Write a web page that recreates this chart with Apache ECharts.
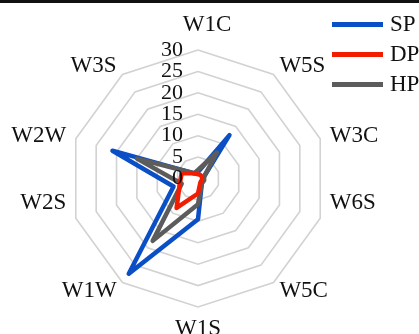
<!DOCTYPE html>
<html>
<head>
<meta charset="utf-8">
<script src="https://cdn.jsdelivr.net/npm/echarts@6/dist/echarts.min.js"></script>
<style>
  html, body { margin: 0; padding: 0; background: #fff; }
  #chart { width: 419px; height: 334px; }
</style>
</head>
<body>
<div id="chart"></div>
<script>
// Spokes listed counter-clockwise from the top, the way ECharts lays out radar indicators.
var categories = ['W1C', 'W3S', 'W2W', 'W2S', 'W1W', 'W1S', 'W5C', 'W6S', 'W3C', 'W5S'];
var seriesNames = ['SP', 'DP', 'HP'];
var spValues = [1.5, 1.5, 21, 6, 27.5, 9.5, 1.5, 1, 1.5, 12.5];
var dpValues = [1, 1.5, 4, 4.5, 8.5, 3.5, 1, 1, 1, 1];
var hpValues = [2, 1.5, 15, 4, 18, 6, 1.5, 1.5, 1.5, 7.5];
var axisMin = 0;
var axisMax = 30;
var axisSplits = 6;

var FONT = 'Liberation Serif';
var colors = { SP: '#0b4fc6', DP: '#f21d00', HP: '#5c5c5c' };
var CENTER = [198, 178.5];
var RADIUS = 128.5;

// Per-spoke nudges of the spoke names (rich-text style keys).
var nameStyleKey = { W1C: 'top', W2S: 'raised', W6S: 'raised' };

function tickLabels(extra) {
  return Object.assign({
    show: true, hideOverlap: false, margin: 15,
    color: '#111', fontSize: 22, fontFamily: FONT, padding: [6, 0, 0, 0]
  }, extra);
}

// Main radar: rings and spoke names.
var indicators = categories.map(function (c) {
  return { name: c, min: axisMin, max: axisMax };
});

// Overlay radar on the same scale that prints the tick numbers above the lines.
// The inner numbers and the two end numbers come from separate axes so none is dropped.
function labelIndicators(labelOpt) {
  return categories.map(function (c, i) {
    var ind = { name: c, min: axisMin, max: axisMax };
    if (i === 0) ind.axisLabel = labelOpt;
    return ind;
  });
}
var innerIndicators = labelIndicators(tickLabels({ showMinLabel: false, showMaxLabel: false }));
var endIndicators = labelIndicators(tickLabels({
  showMinLabel: true, showMaxLabel: true,
  formatter: function (v) { return (v === axisMin || v === axisMax) ? String(v) : ''; }
}));

function labelRadar(ind) {
  return {
    z: 10,
    center: CENTER,
    radius: RADIUS,
    startAngle: 90,
    shape: 'polygon',
    splitNumber: axisSplits,
    indicator: ind,
    axisName: { show: false },
    axisLine: { show: false },
    axisTick: { show: false },
    axisLabel: { show: false },
    splitLine: { show: false },
    splitArea: { show: false }
  };
}

var valueSets = { SP: spValues, DP: dpValues, HP: hpValues };
var zOrder = { SP: 2, DP: 4, HP: 3 };

var chart = echarts.init(document.getElementById('chart'), null, { renderer: 'canvas' });
chart.setOption({
  animation: false,
  backgroundColor: '#fff',
  graphic: [{
    type: 'rect', left: 0, top: 0,
    shape: { width: 419, height: 3 },
    style: { fill: '#111' }
  }],
  legend: {
    data: seriesNames,
    orient: 'vertical',
    left: 327, top: 8,
    itemWidth: 51, itemHeight: 5, itemGap: 7,
    icon: 'rect',
    textStyle: { fontFamily: FONT, fontSize: 23, color: '#111', padding: [0, 0, 0, 2] }
  },
  radar: [{
    center: CENTER,
    radius: RADIUS,
    startAngle: 90,
    shape: 'polygon',
    splitNumber: axisSplits,
    indicator: indicators,
    nameGap: 10,
    axisName: {
      color: '#111', fontSize: 23, fontFamily: FONT,
      formatter: function (name) {
        var key = nameStyleKey[name] || 'plain';
        return '{' + key + '|' + name + '}';
      },
      rich: {
        plain: { color: '#111', fontSize: 23, fontFamily: FONT },
        top: { color: '#111', fontSize: 23, fontFamily: FONT, padding: [0, 0, 4, 18] },
        raised: { color: '#111', fontSize: 23, fontFamily: FONT, padding: [0, 0, 36, 0] }
      }
    },
    axisLine: { show: false },
    axisTick: { show: false },
    axisLabel: { show: false },
    splitLine: { lineStyle: { color: '#d2d2d2', width: 1.6 } },
    splitArea: { show: false }
  }, labelRadar(innerIndicators), labelRadar(endIndicators)],
  series: seriesNames.map(function (n) {
    return {
      name: n,
      type: 'radar',
      radarIndex: 0,
      z: zOrder[n],
      symbol: 'none',
      lineStyle: { color: colors[n], width: 4.5, join: 'round' },
      itemStyle: { color: colors[n] },
      data: [{ value: valueSets[n], name: n }]
    };
  })
});
</script>
</body>
</html>
